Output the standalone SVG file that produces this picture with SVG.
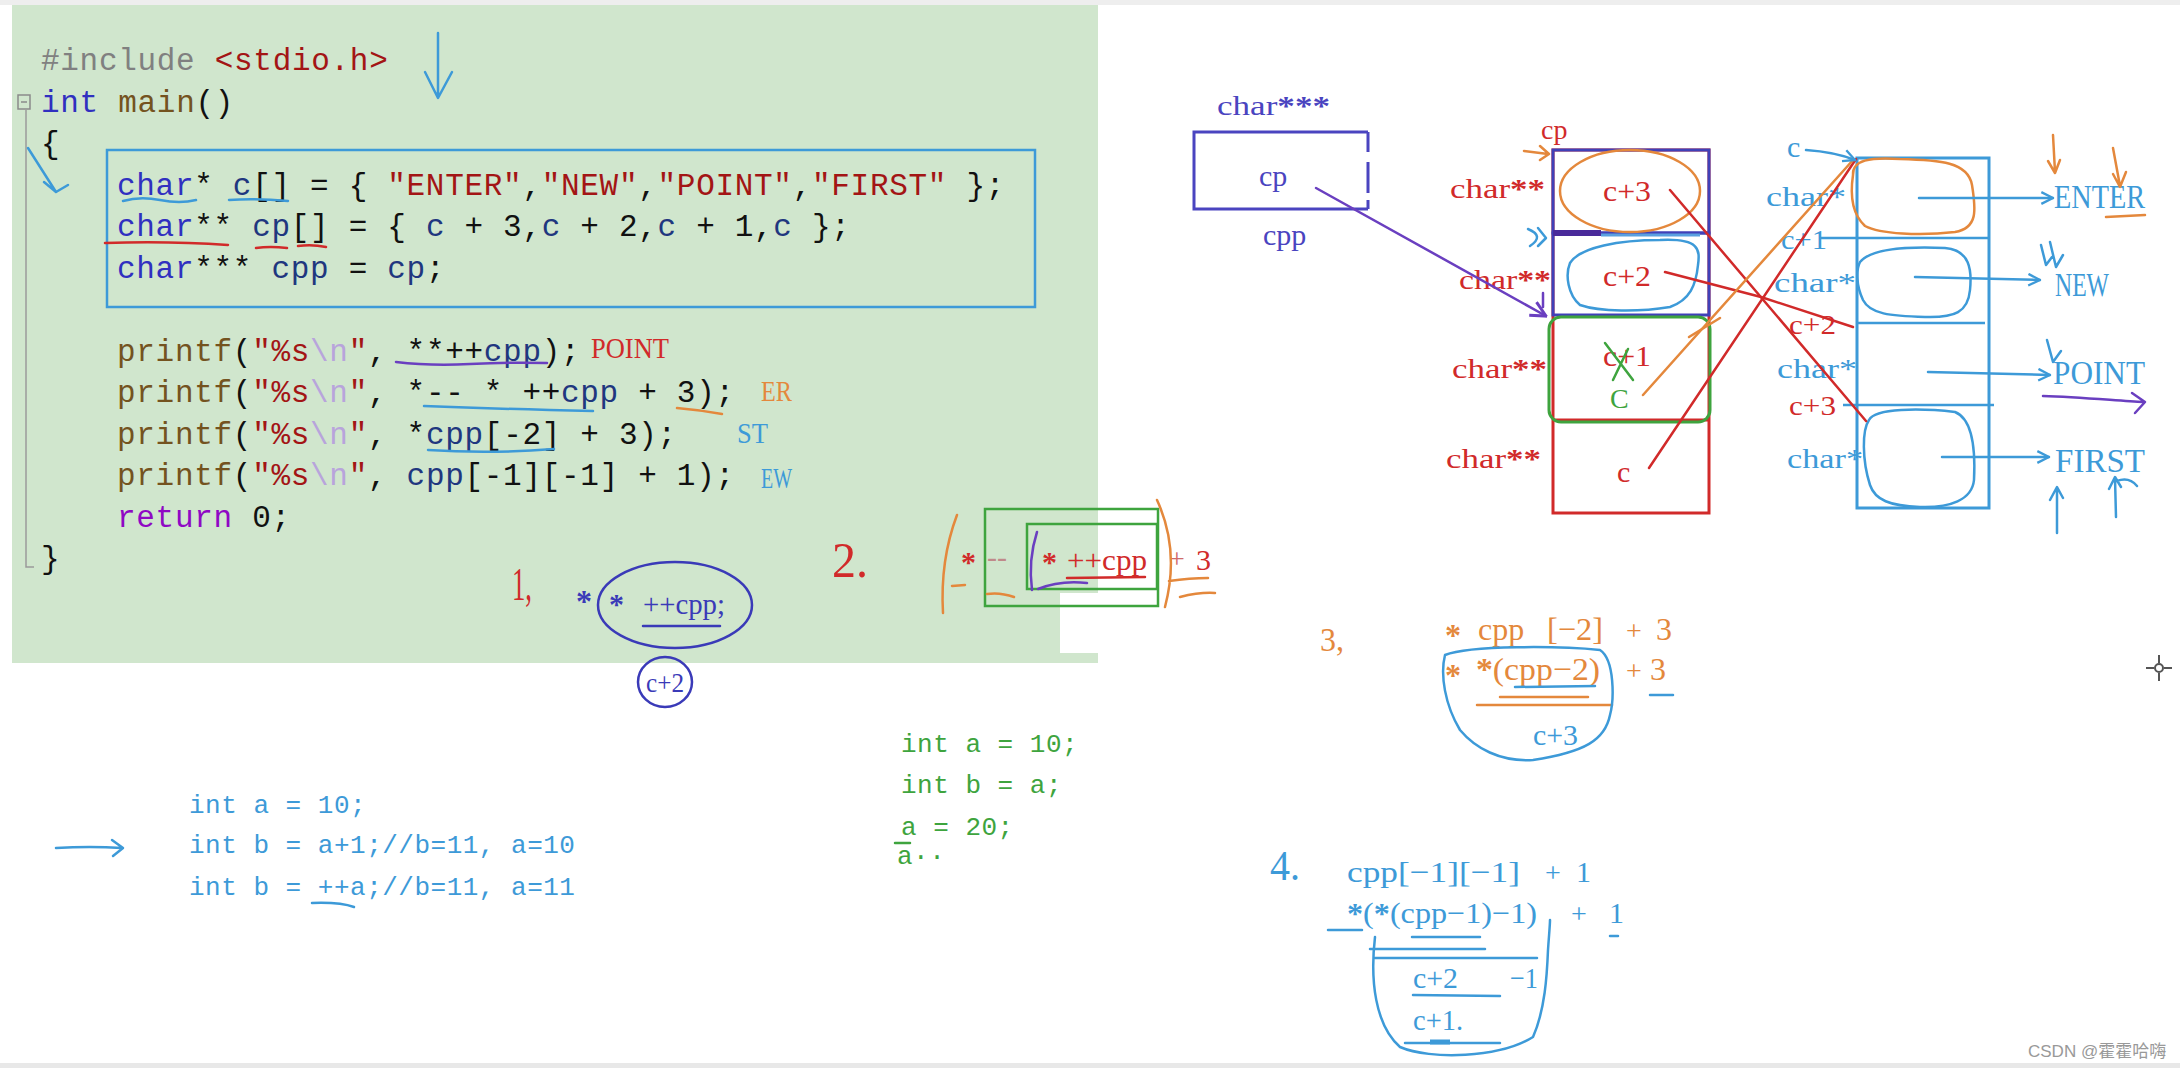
<svg xmlns="http://www.w3.org/2000/svg" width="2180" height="1068" viewBox="0 0 2180 1068">
<defs>
<style>
.code{font-family:"Liberation Mono","DejaVu Sans Mono",monospace;font-size:31px;letter-spacing:0.7px;fill:#111;white-space:pre}
.kw{fill:#3030c0}.fn{fill:#74531f}.str{fill:#a31515}.var{fill:#1f377f}.esc{fill:#b8a4dc}.inc{fill:#808080}.ret{fill:#8f08c4}
.hs{font-family:"Liberation Serif","DejaVu Serif",serif;white-space:pre}
.hm{font-family:"Liberation Mono","DejaVu Sans Mono",monospace;font-size:26px;letter-spacing:0.5px;white-space:pre}
.fB{fill:#3d9ad8}.fP{fill:#4a44c0}.fR{fill:#d12a2a}.fO{fill:#e4883c}.fG{fill:#3ea43e}
.sB{stroke:#3d9ad8}.sP{stroke:#4a44c0}.sV{stroke:#6a3fc0}.sR{stroke:#d12a2a}.sO{stroke:#e4883c}.sG{stroke:#3ea43e}
.ln{fill:none;stroke-width:2.5;stroke-linecap:round;stroke-linejoin:round}
</style>
<marker id="aB" viewBox="0 0 12 12" refX="11" refY="6" markerWidth="14" markerHeight="14" markerUnits="userSpaceOnUse" orient="auto"><path d="M1,1 L11,6 L1,11" fill="none" stroke="#3d9ad8" stroke-width="2"/></marker>
<marker id="aV" viewBox="0 0 12 12" refX="11" refY="6" markerWidth="18" markerHeight="18" markerUnits="userSpaceOnUse" orient="auto"><path d="M1,1 L11,6 L1,11" fill="none" stroke="#6a3fc0" stroke-width="2"/></marker>
</defs>
<rect x="0" y="0" width="2180" height="1068" fill="#ffffff"/>
<rect x="0" y="0" width="2180" height="5" fill="#eeeeee"/>
<rect x="0" y="1063" width="2180" height="5" fill="#e8e8e8"/>
<g id="editor">
<rect x="12" y="5" width="1086" height="658" fill="#d0e6cd"/>
<rect x="1060" y="593" width="38" height="60" fill="#ffffff"/>
<rect x="18" y="95" width="12" height="14" fill="none" stroke="#8a8a8a" stroke-width="1.5"/>
<line x1="21" y1="102" x2="27" y2="102" stroke="#8a8a8a" stroke-width="1.5"/>
<path d="M26,110 V567 H34" fill="none" stroke="#9a9a9a" stroke-width="1.5"/>
<text class="code" x="41" y="70"><tspan class="inc">#include </tspan><tspan class="str">&lt;stdio.h&gt;</tspan></text>
<text class="code" x="41" y="111.5"><tspan class="kw">int</tspan> <tspan class="fn">main</tspan>()</text>
<text class="code" x="41" y="153">{</text>
<text class="code" x="117" y="194.5"><tspan class="kw">char</tspan>* <tspan class="var">c</tspan>[] = { <tspan class="str">"ENTER"</tspan>,<tspan class="str">"NEW"</tspan>,<tspan class="str">"POINT"</tspan>,<tspan class="str">"FIRST"</tspan> };</text>
<text class="code" x="117" y="236"><tspan class="kw">char</tspan>** <tspan class="var">cp</tspan>[] = { <tspan class="var">c</tspan> + 3,<tspan class="var">c</tspan> + 2,<tspan class="var">c</tspan> + 1,<tspan class="var">c</tspan> };</text>
<text class="code" x="117" y="277.5"><tspan class="kw">char</tspan>*** <tspan class="var">cpp</tspan> = <tspan class="var">cp</tspan>;</text>
<text class="code" x="117" y="360.5"><tspan class="fn">printf</tspan>(<tspan class="str">"%s</tspan><tspan class="esc">\n</tspan><tspan class="str">"</tspan>, **++<tspan class="var">cpp</tspan>);</text>
<text class="code" x="117" y="402"><tspan class="fn">printf</tspan>(<tspan class="str">"%s</tspan><tspan class="esc">\n</tspan><tspan class="str">"</tspan>, *-- * ++<tspan class="var">cpp</tspan> + 3);</text>
<text class="code" x="117" y="443.5"><tspan class="fn">printf</tspan>(<tspan class="str">"%s</tspan><tspan class="esc">\n</tspan><tspan class="str">"</tspan>, *<tspan class="var">cpp</tspan>[-2] + 3);</text>
<text class="code" x="117" y="485"><tspan class="fn">printf</tspan>(<tspan class="str">"%s</tspan><tspan class="esc">\n</tspan><tspan class="str">"</tspan>, <tspan class="var">cpp</tspan>[-1][-1] + 1);</text>
<text class="code" x="117" y="526.5"><tspan class="ret">return</tspan> 0;</text>
<text class="code" x="41" y="568">}</text>
<rect x="107" y="150" width="928" height="157" fill="none" stroke="#3d9ad8" stroke-width="2.5"/>
</g>
<g id="code-notes">
<path class="ln sB" d="M438,33 V97 M425,72 L438,98 L452,72"/>
<path class="ln sB" d="M28,148 L56,192 M44,182 L56,192 L68,185"/>
<path class="ln sB" d="M123,201 Q140,196 160,200 T196,200 M229,200 Q255,198 288,201"/>
<path class="ln sR" d="M105,243 Q170,241 228,245 M256,248 Q270,246 287,248 M298,246 Q312,244 326,247"/>
<path class="ln sV" d="M396,362 Q430,366 470,364 T547,363"/>
<path class="ln sB" d="M424,406 Q500,409 593,411"/>
<path class="ln sO" d="M677,408 Q700,410 722,414"/>
<path class="ln sB" d="M428,450 Q490,454 554,449"/>
<text class="hs fR" x="591" y="358" font-size="30" textLength="78" lengthAdjust="spacingAndGlyphs">POINT</text>
<text class="hs fO" x="761" y="401" font-size="30" textLength="31" lengthAdjust="spacingAndGlyphs">ER</text>
<text class="hs fB" x="737" y="443" font-size="30" textLength="31" lengthAdjust="spacingAndGlyphs">ST</text>
<text class="hs fB" x="761" y="488" font-size="30" textLength="31" lengthAdjust="spacingAndGlyphs">EW</text>
</g>
<g id="step1">
<text class="hs fR" x="512" y="600" font-size="46" textLength="20" lengthAdjust="spacingAndGlyphs">1,</text>
<text class="hs" x="576" y="612" font-size="32" font-weight="bold" fill="#3a3ab8">*</text>
<ellipse cx="675" cy="605" rx="77" ry="43" fill="none" stroke="#3a3ab8" stroke-width="2.5"/>
<text class="hs" x="609" y="614" font-size="30" font-weight="bold" fill="#3a3ab8">*</text>
<text class="hs" x="643" y="614" font-size="30" fill="#3a3ab8" textLength="82" lengthAdjust="spacingAndGlyphs">++cpp;</text>
<path class="ln" stroke="#3a3ab8" d="M643,626 L720,626"/>
<ellipse cx="665" cy="682" rx="27" ry="25" fill="none" stroke="#3a3ab8" stroke-width="2.5"/>
<text class="hs" x="665" y="692" font-size="27" fill="#3a3ab8" text-anchor="middle" textLength="38" lengthAdjust="spacingAndGlyphs">c+2</text>
</g>
<g id="step2">
<text class="hs fR" x="832" y="577" font-size="50" textLength="36" lengthAdjust="spacingAndGlyphs">2.</text>
<path class="ln sO" d="M957,515 Q940,560 943,613"/>
<rect x="985" y="509" width="173" height="97" fill="none" stroke="#3ea43e" stroke-width="2.5"/>
<rect x="1027" y="524" width="130" height="65" fill="none" stroke="#3ea43e" stroke-width="2.5"/>
<text class="hs fR" x="961" y="572" font-size="30" font-weight="bold">*</text>
<text class="hs" x="987" y="567" font-size="30" fill="#c08a8a">--</text>
<path class="ln sV" d="M1037,532 Q1028,560 1032,590"/>
<text class="hs fR" x="1042" y="572" font-size="30" font-weight="bold">*</text>
<text class="hs fR" x="1067" y="570" font-size="30" textLength="80" lengthAdjust="spacingAndGlyphs">++cpp</text>
<text class="hs" x="1169" y="568" font-size="28" fill="#d06a6a">+</text>
<text class="hs fR" x="1196" y="570" font-size="30">3</text>
<path class="ln sR" d="M1067,578 L1145,577"/>
<path class="ln sV" d="M1038,589 Q1060,580 1087,583"/>
<path class="ln sO" d="M952,586 L965,585 M987,594 Q1000,592 1014,597 M1157,500 Q1180,550 1165,607 M1169,581 Q1190,578 1208,578 M1180,597 Q1200,592 1215,593"/>
</g>
<g id="left-notes">
<path class="ln sB" d="M56,848 Q90,846 122,848 M112,840 L123,848 L113,856"/>
<text class="hm fB" x="189" y="813">int a = 10;</text>
<text class="hm fB" x="189" y="853">int b = a+1;//b=11, a=10</text>
<text class="hm fB" x="189" y="895">int b = ++a;//b=11, a=11</text>
<path class="ln sB" d="M312,903 Q340,902 354,907"/>
<text class="hm fG" x="901" y="752">int a = 10;</text>
<text class="hm fG" x="901" y="793">int b = a;</text>
<text class="hm fG" x="901" y="835">a = 20;</text>
<path class="ln sG" d="M895,843 L910,843"/>
<text class="hm fG" x="897" y="864" font-size="15">a··</text>
</g>
<g id="cpp-node">
<text class="hs fP" x="1217" y="115" font-size="28" textLength="113" lengthAdjust="spacingAndGlyphs">char<tspan font-weight="bold">***</tspan></text>
<path d="M1368,132 H1194 V209 H1368" fill="none" stroke="#4a44c0" stroke-width="3"/>
<path d="M1368,132 V209" fill="none" stroke="#4a44c0" stroke-width="3" stroke-dasharray="20,10,31,7,9,0"/>
<text class="hs fP" x="1259" y="186" font-size="30">cp</text>
<text class="hs fP" x="1263" y="245" font-size="30">cpp</text>
</g>
<g id="cp-array">
<rect x="1553" y="150" width="156" height="363" fill="none" stroke="#d12a2a" stroke-width="3"/>
<rect x="1553" y="150" width="156" height="83" fill="none" stroke="#4040b8" stroke-width="3"/>
<rect x="1553" y="233" width="156" height="82" fill="none" stroke="#4040b8" stroke-width="3"/>
<path d="M1553,233 H1601" stroke="#4a2a9a" stroke-width="6"/>
<path d="M1601,235 H1700" stroke="#5aa0e0" stroke-width="3"/>
<line x1="1553" y1="420" x2="1709" y2="420" stroke="#d12a2a" stroke-width="3"/>
<rect x="1549" y="317" width="161" height="105" rx="12" fill="none" stroke="#3ea43e" stroke-width="3"/>
<text class="hs fR" x="1541" y="139" font-size="28">cp</text>
<text class="hs fR" x="1450" y="198" font-size="28" textLength="95" lengthAdjust="spacingAndGlyphs">char<tspan font-weight="bold">**</tspan></text>
<text class="hs fR" x="1459" y="289" font-size="28" textLength="92" lengthAdjust="spacingAndGlyphs">char<tspan font-weight="bold">**</tspan></text>
<text class="hs fR" x="1452" y="378" font-size="28" textLength="95" lengthAdjust="spacingAndGlyphs">char<tspan font-weight="bold">**</tspan></text>
<text class="hs fR" x="1446" y="468" font-size="28" textLength="95" lengthAdjust="spacingAndGlyphs">char<tspan font-weight="bold">**</tspan></text>
<ellipse cx="1630" cy="191" rx="70" ry="41" fill="none" stroke="#e4883c" stroke-width="2.5"/>
<text class="hs fR" x="1603" y="201" font-size="30" textLength="48" lengthAdjust="spacingAndGlyphs">c+3</text>
<path class="ln sB" d="M1570,263 C1580,247 1620,240 1660,240 C1700,238 1700,250 1698,265 C1696,285 1690,300 1670,307 C1640,312 1600,312 1580,305 C1568,295 1565,275 1570,263 Z"/>
<text class="hs fR" x="1603" y="286" font-size="30" textLength="48" lengthAdjust="spacingAndGlyphs">c+2</text>
<text class="hs fR" x="1603" y="366" font-size="30" textLength="48" lengthAdjust="spacingAndGlyphs">c+1</text>
<path class="ln sG" d="M1605,343 L1633,380 M1613,380 L1628,349"/>
<text class="hs fG" x="1610" y="408" font-size="28">C</text>
<text class="hs fR" x="1617" y="482" font-size="30">c</text>
<path class="ln sO" d="M1524,151 L1548,154 M1540,146 L1549,154 L1540,160"/>
<path class="ln sB" d="M1528,229 Q1545,236 1530,246 M1538,228 L1546,238 L1538,246"/>
<path class="ln sV" d="M1543,293 V307"/>
</g>
<g id="c-array">
<rect x="1857" y="158" width="132" height="350" fill="none" stroke="#3d9ad8" stroke-width="3"/>
<line x1="1820" y1="238" x2="1988" y2="238" stroke="#3d9ad8" stroke-width="2.5"/>
<line x1="1857" y1="323" x2="1985" y2="323" stroke="#3d9ad8" stroke-width="2.5"/>
<line x1="1843" y1="405" x2="1994" y2="405" stroke="#3d9ad8" stroke-width="2.5"/>
<path class="ln sO" d="M1853,175 C1852,160 1870,157 1900,159 C1940,160 1968,162 1972,185 C1976,210 1978,228 1955,232 C1920,236 1880,234 1865,226 C1852,214 1850,195 1853,175 Z"/>
<path class="ln sB" d="M1860,262 C1870,250 1900,246 1945,248 C1970,250 1972,270 1970,290 C1968,312 1955,318 1925,317 C1890,316 1870,314 1863,300 C1856,285 1856,270 1860,262 Z"/>
<path class="ln sB" d="M1869,420 C1875,408 1920,408 1955,412 C1975,420 1975,460 1974,480 C1972,500 1950,508 1920,507 C1890,506 1875,500 1870,485 C1862,460 1862,430 1869,420 Z"/>
<text class="hs fB" x="1787" y="157" font-size="30">c</text>
<text class="hs fB" x="1766" y="206" font-size="28" textLength="80" lengthAdjust="spacingAndGlyphs">char*</text>
<text class="hs fB" x="1781" y="249" font-size="28" textLength="46" lengthAdjust="spacingAndGlyphs">c+1</text>
<text class="hs fB" x="1774" y="292" font-size="28" textLength="82" lengthAdjust="spacingAndGlyphs">char*</text>
<text class="hs fR" x="1789" y="334" font-size="28" textLength="47" lengthAdjust="spacingAndGlyphs">c+2</text>
<text class="hs fB" x="1777" y="378" font-size="28" textLength="80" lengthAdjust="spacingAndGlyphs">char*</text>
<text class="hs fR" x="1789" y="415" font-size="28" textLength="47" lengthAdjust="spacingAndGlyphs">c+3</text>
<text class="hs fB" x="1787" y="468" font-size="28" textLength="76" lengthAdjust="spacingAndGlyphs">char*</text>
<text class="hs fB" x="2054" y="208" font-size="34" textLength="91" lengthAdjust="spacingAndGlyphs">ENTER</text>
<text class="hs fB" x="2055" y="296" font-size="34" textLength="54" lengthAdjust="spacingAndGlyphs">NEW</text>
<text class="hs fB" x="2053" y="384" font-size="34" textLength="92" lengthAdjust="spacingAndGlyphs">POINT</text>
<text class="hs fB" x="2055" y="472" font-size="34" textLength="90" lengthAdjust="spacingAndGlyphs">FIRST</text>
<path class="ln sO" d="M2053,135 L2055,172 M2048,161 L2055,173 L2060,160 M2113,148 L2120,186 M2113,174 L2120,187 L2126,172 M2106,217 L2145,215"/>
<path class="ln sB" d="M2041,245 L2046,265 L2052,257 M2050,242 L2056,267 L2063,255"/>
<path class="ln sB" d="M2047,340 L2053,362 L2061,351"/>
<path class="ln sV" d="M2043,396 C2080,397 2120,401 2143,402 M2132,393 L2145,402 L2135,413"/>
<path class="ln sB" d="M2057,533 L2057,488 M2050,500 L2057,487 L2063,498 M2116,517 L2115,478 M2109,489 L2115,477 L2121,487 M2117,481 C2125,478 2132,480 2137,486"/>
</g>
<g id="connectors">
<path class="ln sV" d="M1316,188 L1546,316" marker-end="url(#aV)"/>
<path class="ln sR" d="M1670,190 L1866,421"/>
<path class="ln sR" stroke-width="3.5" d="M1665,272 L1761,297 L1853,327"/>
<path class="ln sR" d="M1649,468 L1856,159"/>
<path class="ln sO" d="M1643,395 L1853,160"/>
<path class="ln sO" d="M1689,337 L1720,318"/>
<path class="ln sB" d="M1806,150 Q1835,152 1855,160" marker-end="url(#aB)"/>
<path class="ln sB" d="M1919,198 L2053,198" marker-end="url(#aB)"/>
<path class="ln sB" d="M1915,277 L2040,280" marker-end="url(#aB)"/>
<path class="ln sB" d="M1928,372 L2050,375" marker-end="url(#aB)"/>
<path class="ln sB" d="M1942,457 L2049,457" marker-end="url(#aB)"/>
</g>
<g id="step3">
<text class="hs fO" x="1320" y="651" font-size="34" textLength="24" lengthAdjust="spacingAndGlyphs">3,</text>
<text class="hs fO" x="1445" y="646" font-size="32" font-weight="bold">*</text>
<text class="hs fO" x="1478" y="640" font-size="32">cpp</text>
<text class="hs fO" x="1547" y="640" font-size="32" textLength="56" lengthAdjust="spacingAndGlyphs">[−2]</text>
<text class="hs fO" x="1626" y="640" font-size="28">+</text>
<text class="hs fO" x="1656" y="640" font-size="32">3</text>
<text class="hs fO" x="1445" y="686" font-size="32" font-weight="bold">*</text>
<text class="hs fO" x="1476" y="680" font-size="32" textLength="124" lengthAdjust="spacingAndGlyphs"><tspan font-weight="bold">*</tspan>(cpp−2)</text>
<text class="hs fO" x="1626" y="680" font-size="28">+</text>
<text class="hs fO" x="1650" y="680" font-size="32">3</text>
<path class="ln sB" d="M1515,687 L1595,686 M1650,695 L1673,695"/>
<path class="ln sO" d="M1500,697 L1588,697 M1477,705 L1612,705"/>
<path class="ln sB" d="M1445,655 C1470,645 1560,646 1600,650 C1615,660 1614,700 1610,715 C1605,740 1585,752 1533,760 C1500,762 1475,748 1460,730 C1445,705 1440,675 1445,655 Z"/>
<text class="hs fB" x="1533" y="745" font-size="30" textLength="45" lengthAdjust="spacingAndGlyphs">c+3</text>
</g>
<g id="step4">
<text class="hs fB" x="1270" y="880" font-size="42" textLength="30" lengthAdjust="spacingAndGlyphs">4.</text>
<text class="hs fB" x="1347" y="882" font-size="30" textLength="173" lengthAdjust="spacingAndGlyphs">cpp[−1][−1]</text>
<text class="hs fB" x="1545" y="882" font-size="28">+</text>
<text class="hs fB" x="1576" y="882" font-size="30">1</text>
<text class="hs fB" x="1347" y="923" font-size="30" textLength="190" lengthAdjust="spacingAndGlyphs"><tspan font-weight="bold">*</tspan>(<tspan font-weight="bold">*</tspan>(cpp−1)−1)</text>
<text class="hs fB" x="1571" y="923" font-size="28">+</text>
<text class="hs fB" x="1609" y="923" font-size="30">1</text>
<path class="ln sB" d="M1328,930 L1362,930 M1412,937 L1480,937 M1370,949 L1485,949 M1375,958 L1537,958 M1610,936 L1618,936"/>
<path class="ln sB" d="M1375,937 C1370,980 1375,1025 1400,1047 C1430,1060 1500,1058 1533,1037 C1545,1010 1547,975 1548,950 C1549,935 1550,925 1550,920"/>
<text class="hs fB" x="1413" y="988" font-size="30" textLength="45" lengthAdjust="spacingAndGlyphs">c+2</text>
<text class="hs fB" x="1510" y="988" font-size="30" textLength="28" lengthAdjust="spacingAndGlyphs">−1</text>
<path class="ln sB" d="M1413,995 L1500,996"/>
<text class="hs fB" x="1413" y="1030" font-size="30" textLength="50" lengthAdjust="spacingAndGlyphs">c+1.</text>
<path class="ln sB" d="M1405,1043 L1500,1043"/>
<path d="M1430,1042 H1450" stroke="#3d9ad8" stroke-width="5"/>
</g>
<g id="misc">
<circle cx="2159" cy="668" r="4" fill="none" stroke="#555" stroke-width="2"/>
<path d="M2146,668 H2154 M2164,668 H2172 M2159,655 V663 M2159,673 V681" stroke="#555" stroke-width="2"/>
<text x="2028" y="1057" font-family="Liberation Sans, Noto Sans CJK SC, sans-serif" font-size="17" fill="#999">CSDN @霍霍哈嗨</text>
</g>
</svg>
